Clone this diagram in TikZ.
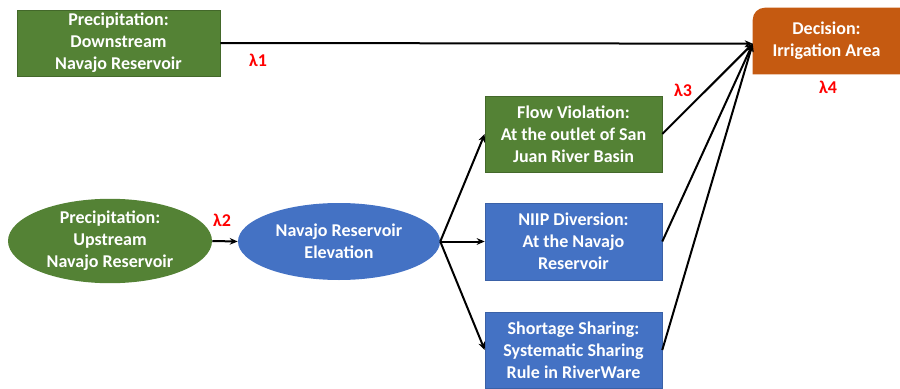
\documentclass[tikz,border=0pt]{standalone}
\usepackage{fontspec}
\setmainfont{Carlito}
\usetikzlibrary{shapes.geometric,arrows.meta,backgrounds}
\definecolor{nodegreen}{HTML}{548235}
\definecolor{nodeblue}{HTML}{4472C4}
\definecolor{nodeorange}{HTML}{C55A11}
\definecolor{lamred}{HTML}{FF0000}
\tikzset{
  x=0.75pt, y=0.75pt,
  txt/.style={text=white, font=\fontsize{13.5}{16.5}\selectfont\bfseries, align=center, inner sep=0pt},
  gbox/.style={txt, rectangle, fill=nodegreen, draw=nodegreen!80!black, line width=0.4pt},
  bbox/.style={txt, rectangle, fill=nodeblue, draw=nodeblue!85!black, line width=0.4pt},
  gell/.style={txt, ellipse, fill=nodegreen},
  bell/.style={txt, ellipse, fill=nodeblue},
  conn/.style={line width=1.5pt, -{Stealth[length=6pt,width=5pt]}},
  lam/.style={text=lamred, font=\fontsize{13.5}{16}\selectfont\bfseries, inner sep=0pt}
}
\begin{document}
\begin{tikzpicture}
\useasboundingbox (0,0) rectangle (900,-389);

% boxes and ellipses
\node[gbox, minimum width=152.25pt, minimum height=49.5pt] (pdown) at (118.5,-43)
  {Precipitation:\\Downstream\\Navajo Reservoir};
\node[gell, minimum width=153pt, minimum height=58.5pt] (pup) at (110,-241)
  {Precipitation:\\Upstream\\Navajo Reservoir};
\node[bell, minimum width=151.5pt, minimum height=57.75pt] (elev) at (339,-241.5)
  {Navajo Reservoir\\Elevation};
\node[gbox, minimum width=132.75pt, minimum height=57pt] (flow) at (573.5,-134)
  {Flow Violation:\\At the outlet of San\\Juan River Basin};
\node[bbox, minimum width=132.75pt, minimum height=57.75pt] (niip) at (573.5,-241.5)
  {NIIP Diversion:\\At the Navajo\\Reservoir};
\node[bbox, minimum width=132.75pt, minimum height=57pt] (short) at (573.5,-350)
  {Shortage Sharing:\\Systematic Sharing\\Rule in RiverWare};
\node[txt, minimum width=110.25pt, minimum height=49.5pt] (dec) at (826.5,-41)
  {Decision:\\Irrigation Area};
\begin{scope}[on background layer]
  \fill[nodeorange] (dec.south west) -- ([yshift=-9pt]dec.north west)
    arc[start angle=180, end angle=90, radius=12] -- (dec.north east)
    -- (dec.south east) -- cycle;
\end{scope}

% connectors
\draw[conn] (pdown.east) -- ([yshift=-2pt]dec.west);
\draw[conn] (flow.east) -- ([yshift=-2pt]dec.west);
\draw[conn] (niip.east) -- ([yshift=-2pt]dec.west);
\draw[conn] (short.east) -- ([yshift=-2pt]dec.west);
\draw[conn] (pup.east) -- (elev.west);
\draw[conn] (elev.east) -- (flow.west);
\draw[conn] (elev.east) -- (niip.west);
\draw[conn] (elev.east) -- (short.west);

% weights
\node[lam] (l1) at (258,-60) {λ1};
\node[lam] (l2) at (222,-220) {λ2};
\node[lam] (l3) at (683,-90) {λ3};
\node[lam] (l4) at (828,-87) {λ4};
\end{tikzpicture}
\end{document}
